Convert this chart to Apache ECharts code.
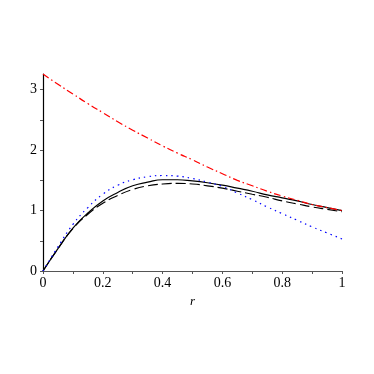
<!DOCTYPE html>
<html>
<head>
<meta charset="utf-8">
<script src="https://cdn.jsdelivr.net/npm/echarts@6/dist/echarts.min.js"></script>
<style>
  html, body { margin: 0; padding: 0; background: #fff; }
  #chart { width: 374px; height: 374px; }
</style>
</head>
<body>
<div id="chart"></div>
<script>
// r values shared by every curve
const rValues = [0, 0.05, 0.1, 0.15, 0.2, 0.25, 0.3, 0.35, 0.4, 0.45, 0.5,
  0.55, 0.6, 0.65, 0.7, 0.75, 0.8, 0.85, 0.9, 0.95, 1]

const solidCurve = [0, 0.37, 0.71, 0.96, 1.16, 1.30, 1.41, 1.47, 1.51, 1.51, 1.49,
  1.46, 1.42, 1.37, 1.32, 1.26, 1.21, 1.16, 1.10, 1.05, 1.00]
const dashedCurve = [0, 0.37, 0.70, 0.94, 1.12, 1.25, 1.35, 1.41, 1.44, 1.45, 1.44,
  1.41, 1.37, 1.32, 1.27, 1.22, 1.16, 1.11, 1.06, 1.02, 0.98]
const dottedCurve = [0, 0.40, 0.77, 1.05, 1.27, 1.42, 1.51, 1.56, 1.58, 1.57, 1.53,
  1.47, 1.40, 1.29, 1.18, 1.06, 0.95, 0.84, 0.73, 0.63, 0.53]
const dashDotCurve = [3.26, 3.09, 2.93, 2.77, 2.62, 2.47, 2.33, 2.20, 2.07, 1.95, 1.84,
  1.72, 1.61, 1.50, 1.41, 1.32, 1.24, 1.17, 1.10, 1.05, 1.00]

const xTicks = [0, 0.1, 0.2, 0.3, 0.4, 0.5, 0.6, 0.7, 0.8, 0.9, 1]
const xLabels = [0, 0.2, 0.4, 0.6, 0.8, 1]
const yTicks = [0, 0.5, 1, 1.5, 2, 2.5, 3]
const yLabels = [0, 1, 2, 3]

function pairs (ys) {
  return rValues.map((r, i) => [r, ys[i]])
}

let chartDom = document.getElementById('chart')
let myChart = echarts.init(chartDom)
let option

const font = 'Liberation Serif'

option = {
  animation: false,
  textStyle: { fontFamily: font },
  grid: {
    left: 43,
    right: 32,
    top: 74,
    bottom: 103
  },
  xAxis: {
    type: 'value',
    min: 0,
    max: 1,
    name: 'r',
    nameLocation: 'middle',
    nameGap: 21,
    nameTextStyle: { fontFamily: font, fontStyle: 'italic', fontSize: 13, color: '#000' },
    axisLine: { lineStyle: { color: '#555', width: 1 } },
    axisTick: { customValues: xTicks, length: 3, lineStyle: { color: '#555' } },
    axisLabel: {
      customValues: xLabels,
      fontFamily: font,
      fontSize: 14,
      color: '#000',
      margin: 5,
      formatter: v => String(v)
    },
    splitLine: { show: false }
  },
  yAxis: {
    type: 'value',
    min: 0,
    max: 3.26,
    axisLine: { show: true, lineStyle: { color: '#000', width: 1.2 } },
    axisTick: { show: true, customValues: yTicks, length: 3, lineStyle: { color: '#555' } },
    axisLabel: {
      customValues: yLabels,
      fontFamily: font,
      fontSize: 14,
      color: '#000',
      margin: 6
    },
    splitLine: { show: false }
  },
  series: [
    {
      name: 'solid',
      type: 'line',
      smooth: true,
      symbol: 'none',
      lineStyle: { color: '#000', width: 1.2 },
      data: pairs(solidCurve)
    },
    {
      name: 'dashed',
      type: 'line',
      smooth: true,
      symbol: 'none',
      lineStyle: { color: '#000', width: 1.2, type: [10, 4] },
      data: pairs(dashedCurve)
    },
    {
      name: 'dotted',
      type: 'line',
      smooth: true,
      symbol: 'none',
      lineStyle: { color: '#0000ff', width: 1.2, type: [1.5, 4] },
      data: pairs(dottedCurve)
    },
    {
      name: 'dashdot',
      type: 'line',
      smooth: true,
      symbol: 'none',
      lineStyle: { color: '#ff0000', width: 1.2, type: [7, 3, 1.5, 3] },
      data: pairs(dashDotCurve)
    }
  ]
}

option && myChart.setOption(option)
</script>
</body>
</html>
